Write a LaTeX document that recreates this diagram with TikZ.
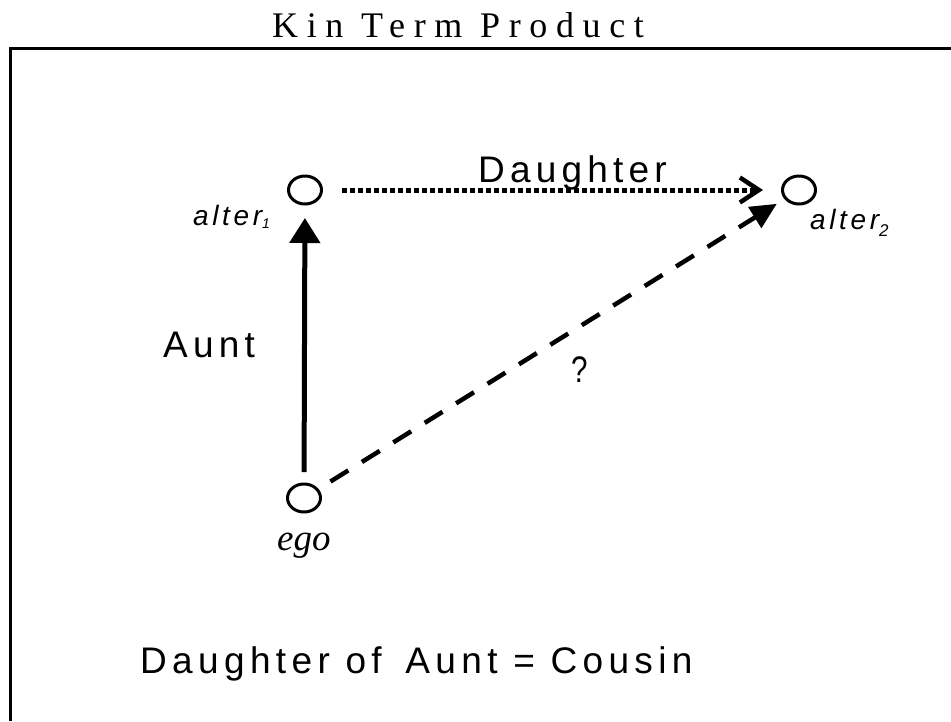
\documentclass[tikz,border=0pt]{standalone}
\usepackage{fontspec}
\setmainfont{Liberation Serif}
\newfontfamily\sansls[LetterSpace=14]{Liberation Sans}
\newfontfamily\sanswide[LetterSpace=14.5]{Liberation Sans}
\newfontfamily\italsans[LetterSpace=13]{Liberation Sans}
\newfontfamily\titlefont[LetterSpace=24]{Liberation Serif}
\usetikzlibrary{shapes.geometric,arrows.meta}
\tikzset{
  circ/.style={ellipse, draw, line width=3pt, minimum width=33pt, minimum height=28pt, inner sep=0pt},
  txt/.style={inner sep=0pt, anchor=base west},
  bigsans/.style={txt, font=\sansls\fontsize{37}{37}\selectfont},
  altlbl/.style={txt, font=\italsans\itshape\fontsize{28}{28}\selectfont},
  auntarrow/.style={line width=5pt, -{Triangle[width=30pt,length=25pt]}},
  dotarrow/.style={line width=5pt, dash pattern=on 5pt off 3pt, -{Straight Barb[length=19pt,width=25pt,line width=4.5pt]}},
  dasharrow/.style={line width=4.5pt, dash pattern=on 21pt off 16pt, -{Triangle[width=24pt,length=26pt]}},
  frameline/.style={line width=3pt}
}
\begin{document}
\begin{tikzpicture}[x=1pt,y=-1pt]
\useasboundingbox (0,0) rectangle (951,721);
% frame
\coordinate (fbl) at (10,721);
\coordinate (ftl) at (10,48);
\coordinate (ftr) at (951,48);
\draw[frameline] (fbl) -- (ftl) -- (ftr);
% title
\node[txt, font=\titlefont\fontsize{36}{36}\selectfont] (title) at (272,37) {Kin Term Product};
% nodes
\node[circ] (a1) at (305,190) {};
\node[circ] (a2) at (799,190) {};
\node[circ] (ego) at (304,498) {};
% labels
\node[altlbl] (a1l) at (193,225) {alter\raisebox{-3pt}{\fontsize{14}{14}\selectfont 1}};
\node[altlbl] (a2l) at (810,229) {alter\raisebox{-7pt}{\fontsize{17}{17}\selectfont 2}};
\node[txt, font=\itshape\fontsize{37}{37}\selectfont] (egol) at (277,550) {ego};
% arrows
\draw[auntarrow, shorten <=10.5pt, shorten >=12.5pt] (ego) -- (a1);
\draw[dotarrow, shorten <=19pt, shorten >=18pt] (a1) -- (a2);
\draw[dasharrow, shorten <=14pt, shorten >=9pt] (ego) -- (a2);
% arrow labels
\node[bigsans] (dl) at (478,182) {Daughter};
\node[bigsans] (al) at (163,357) {Aunt};
\node[txt, font=\sansls\fontsize{37}{37}\selectfont] (ql) at (571,382) {\scalebox{0.8}[1]{?}};
% bottom
\node[txt, font=\sanswide\fontsize{37}{37}\selectfont] (eq) at (140,673) {Daughter of\hspace{8pt} Aunt = Cousin};
\end{tikzpicture}
\end{document}
